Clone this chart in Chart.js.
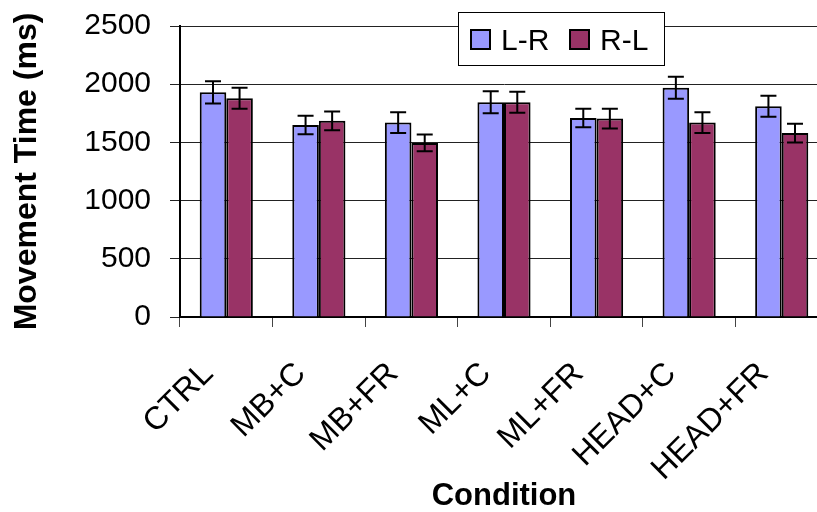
<!DOCTYPE html>
<html>
<head>
<meta charset="utf-8">
<script src="https://cdn.jsdelivr.net/npm/chart.js@4/dist/chart.umd.min.js"></script>
<style>
  html, body { margin: 0; padding: 0; background: #fff; overflow: hidden; }
  #wrap { position: relative; width: 828px; height: 512px; }
</style>
</head>
<body>
<div id="wrap"><canvas id="mtChart"></canvas></div>
<script>
// values (ms)
var conditions = ["CTRL", "MB+C", "MB+FR", "ML+C", "ML+FR", "HEAD+C", "HEAD+FR"];
var lrTimes = [1930, 1650, 1670, 1845, 1710, 1970, 1810];
var rlTimes = [1880, 1685, 1495, 1845, 1705, 1670, 1580];
var lrErr = [95, 80, 90, 95, 80, 95, 90];
var rlErr = [90, 80, 72, 90, 85, 90, 80];
var yTicks = [0, 500, 1000, 1500, 2000, 2500];

var FONT = "'Liberation Sans', Arial, sans-serif";

// error bars drawn on top of each bar
var errorBars = {
  id: 'errorBars',
  afterDatasetsDraw: function(chart) {
    var ctx = chart.ctx;
    var y = chart.scales.y;
    ctx.save();
    ctx.strokeStyle = '#000';
    ctx.lineWidth = 2;
    chart.data.datasets.forEach(function(ds, di) {
      var meta = chart.getDatasetMeta(di);
      meta.data.forEach(function(bar, i) {
        var v = ds.data[i], e = ds.errors[i];
        var top = y.getPixelForValue(v + e);
        var bot = y.getPixelForValue(v - e);
        ctx.beginPath();
        ctx.moveTo(bar.x, top); ctx.lineTo(bar.x, bot);
        ctx.moveTo(bar.x - 8, top); ctx.lineTo(bar.x + 8, top);
        ctx.moveTo(bar.x - 8, bot); ctx.lineTo(bar.x + 8, bot);
        ctx.stroke();
      });
    });
    ctx.restore();
  }
};

// boxed legend sitting over the top edge of the plot
var boxLegend = {
  id: 'boxLegend',
  afterDraw: function(chart) {
    var ctx = chart.ctx;
    var bx = 458.5, by = 12.5, bw = 206, bh = 53;
    ctx.save();
    ctx.fillStyle = '#fff';
    ctx.fillRect(bx, by, bw, bh);
    ctx.strokeStyle = '#000';
    ctx.lineWidth = 1;
    ctx.strokeRect(bx, by, bw, bh);
    ctx.font = '30px ' + FONT;
    ctx.textBaseline = 'alphabetic';
    var x = 471;
    chart.data.datasets.forEach(function(ds) {
      ctx.fillStyle = ds.backgroundColor;
      ctx.fillRect(x, 30, 19, 19);
      ctx.lineWidth = 2;
      ctx.strokeRect(x, 30, 19, 19);
      ctx.fillStyle = '#000';
      ctx.fillText(ds.label, x + 30, 50);
      x += 99;
    });
    ctx.restore();
  }
};

new Chart(document.getElementById('mtChart'), {
  type: 'bar',
  data: {
    labels: conditions,
    datasets: [{
      label: 'L-R',
      data: lrTimes,
      errors: lrErr,
      backgroundColor: '#9999FF',
      borderColor: '#000',
      borderWidth: 2
    }, {
      label: 'R-L',
      data: rlTimes,
      errors: rlErr,
      backgroundColor: '#993366',
      borderColor: '#000',
      borderWidth: 2
    }]
  },
  options: {
    responsive: true,
    maintainAspectRatio: false,
    animation: false,
    layout: { padding: { top: 26, right: 0, bottom: 0, left: 0 } },
    datasets: { bar: { categoryPercentage: 0.574, barPercentage: 1 } },
    plugins: {
      legend: { display: false },
      tooltip: { enabled: false }
    },
    scales: {
      x: {
        afterFit: function(s) { s.height = 195; s.paddingLeft = 0; s.paddingRight = 0; },
        grid: { drawOnChartArea: false, offset: true, tickLength: 10, color: '#444', lineWidth: 1 },
        border: { color: '#000', width: 2 },
        ticks: {
          color: '#000', font: { family: FONT, size: 32 },
          minRotation: 45, maxRotation: 45, padding: 28, labelOffset: -18
        },
        title: {
          display: true, text: 'Condition', color: '#000',
          font: { family: FONT, size: 31, weight: 'bold', lineHeight: 1.0 },
          padding: { top: 0, bottom: 0 }
        }
      },
      y: {
        min: yTicks[0],
        max: yTicks[yTicks.length - 1],
        afterFit: function(s) { s.width = 180; s.paddingTop = 0; s.paddingBottom = 0; },
        afterBuildTicks: function(s) { s.ticks = yTicks.map(function(v) { return { value: v }; }); },
        grid: { color: '#222', lineWidth: 1, tickLength: 10 },
        border: { color: '#000', width: 2 },
        ticks: {
          color: '#000', font: { family: FONT, size: 30 }, padding: 19,
          callback: function(v) { return String(v); }
        },
        title: {
          display: true, text: 'Movement Time (ms)', color: '#000',
          font: { family: FONT, size: 32, weight: 'bold' },
          padding: { top: 8, bottom: 0 }
        }
      }
    }
  },
  plugins: [errorBars, boxLegend]
});
</script>
</body>
</html>
